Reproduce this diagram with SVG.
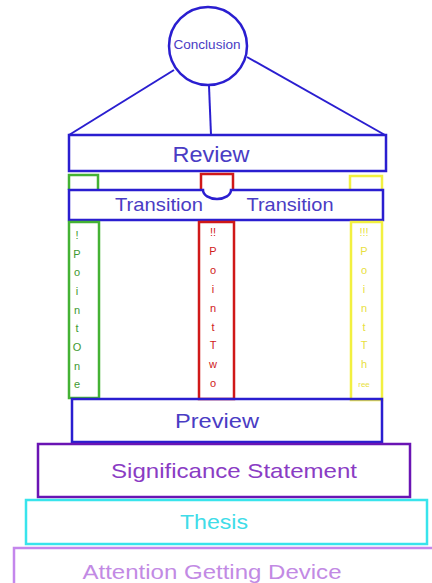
<svg xmlns="http://www.w3.org/2000/svg" width="432" height="583" viewBox="0 0 432 583">
<style>
.b{fill:#fff;stroke:#2a1ed0;stroke-width:2.5}
.t{font-family:"Liberation Sans",Arial,sans-serif;text-anchor:middle}
.bt{fill:#4a3cc4}
.ln{stroke:#2a1ed0;stroke-width:2;fill:none}
.v{font-family:"Liberation Sans",Arial,sans-serif;font-size:11px;text-anchor:middle}
</style>
<rect width="432" height="583" fill="#fff"/>
<g id="connectors">
<line class="ln" x1="174" y1="70" x2="69" y2="135"/>
<line class="ln" x1="209" y1="86" x2="211" y2="135"/>
<line class="ln" x1="247" y1="57" x2="385" y2="135"/>
</g>
<g id="conclusion">
<circle class="b" cx="208" cy="46" r="39"/>
<text class="t bt" x="207" y="49" font-size="12" textLength="67" lengthAdjust="spacingAndGlyphs">Conclusion</text>
</g>
<g id="review">
<rect class="b" x="69" y="135" width="317" height="36"/>
<text class="t bt" x="211" y="162" font-size="22" textLength="77" lengthAdjust="spacingAndGlyphs">Review</text>
</g>
<g id="tops">
<path d="M69,190 V175 H98 V190" fill="none" stroke="#44b234" stroke-width="2.5"/>
<path d="M201,190 V174 H233 V190" fill="none" stroke="#d01818" stroke-width="2.5"/>
<path d="M350,190 V176 H382 V190" fill="none" stroke="#f2f040" stroke-width="2.5"/>
</g>
<g id="transition">
<path d="M69,190 H203 A14,9 0 0 0 231,190 H383 V220 H69 Z" class="b"/>
<text class="t bt" x="159" y="211" font-size="19" textLength="88" lengthAdjust="spacingAndGlyphs">Transition</text>
<text class="t bt" x="290" y="211" font-size="19" textLength="87" lengthAdjust="spacingAndGlyphs">Transition</text>
</g>
<g id="point-one">
<rect x="69" y="222" width="30" height="176" fill="none" stroke="#44b234" stroke-width="2.5"/>
<g class="v" fill="#3e9a30">
<text x="77" y="239">!</text><text x="77" y="258">P</text><text x="77" y="276">o</text><text x="77" y="295">i</text><text x="77" y="314">n</text><text x="77" y="332">t</text><text x="77" y="351">O</text><text x="77" y="370">n</text><text x="77" y="388">e</text>
</g>
</g>
<g id="point-two">
<rect x="199" y="222" width="35" height="177" fill="none" stroke="#d01818" stroke-width="2.5"/>
<g class="v" fill="#d02020">
<text x="213" y="236">!!</text><text x="213" y="255">P</text><text x="213" y="274">o</text><text x="213" y="293">i</text><text x="213" y="312">n</text><text x="213" y="331">t</text><text x="213" y="349">T</text><text x="213" y="368">w</text><text x="213" y="387">o</text>
</g>
</g>
<g id="point-three">
<rect x="351" y="222" width="31" height="178" fill="none" stroke="#f2f040" stroke-width="2.5"/>
<g class="v" fill="#e8e040">
<text x="364" y="236">!!!</text><text x="364" y="255">P</text><text x="364" y="274">o</text><text x="364" y="293">i</text><text x="364" y="312">n</text><text x="364" y="331">t</text><text x="364" y="349">T</text><text x="364" y="368">h</text><text x="364" y="387" font-size="8">ree</text>
</g>
</g>
<g id="preview">
<path d="M72,399 H382 V442 H72 Z" fill="none" stroke="#2a1ed0" stroke-width="2.5"/>
<text class="t bt" x="217" y="428" font-size="21" textLength="84" lengthAdjust="spacingAndGlyphs">Preview</text>
</g>
<g id="significance">
<rect x="38" y="444" width="372" height="53" fill="#fff" stroke="#6a14b4" stroke-width="2.5"/>
<text class="t" x="234" y="478" font-size="21" fill="#8a3cc4" textLength="246" lengthAdjust="spacingAndGlyphs">Significance Statement</text>
</g>
<g id="thesis">
<rect x="26" y="500" width="401" height="44" fill="#fff" stroke="#38e4ec" stroke-width="2.5"/>
<text class="t" x="214" y="529" font-size="20" fill="#40dce8" textLength="68" lengthAdjust="spacingAndGlyphs">Thesis</text>
</g>
<g id="attention">
<rect x="14" y="548" width="430" height="45" fill="#fff" stroke="#c486ec" stroke-width="2.5"/>
<text class="t" x="212" y="579" font-size="20" fill="#c28ae4" textLength="259" lengthAdjust="spacingAndGlyphs">Attention Getting Device</text>
</g>
</svg>
